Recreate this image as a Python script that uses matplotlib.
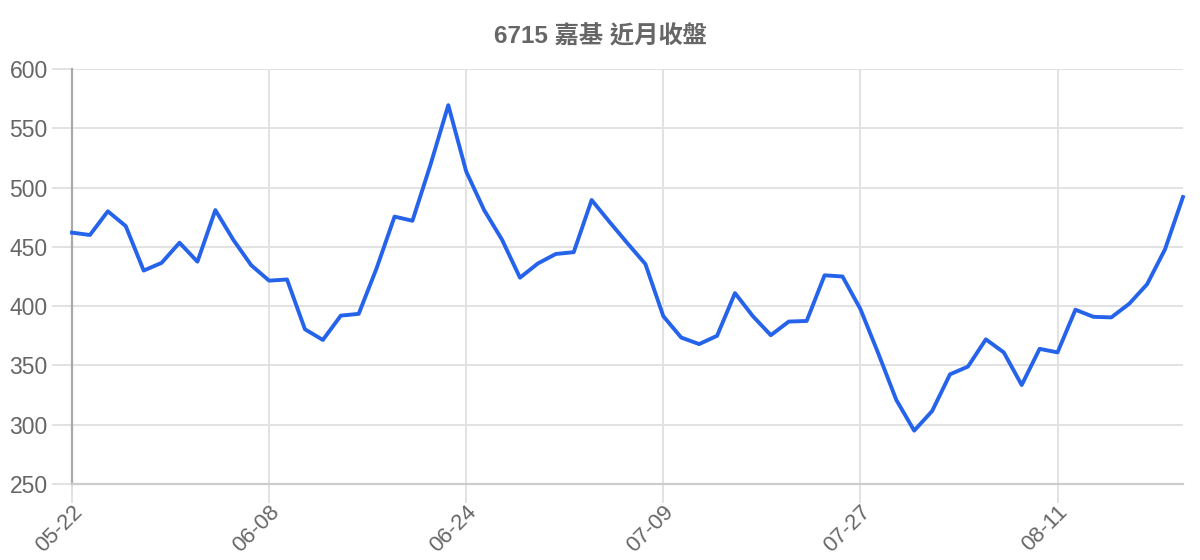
import matplotlib
matplotlib.use('Agg')
import matplotlib.pyplot as plt
from matplotlib.transforms import ScaledTranslation

plt.rcParams['font.family'] = ['Liberation Sans', 'Noto Sans CJK TC', 'DejaVu Sans']

# dates de cotation (affichées une sur onze)
dates = [
    '05-22', '05-25', '05-26', '05-27', '05-28', '05-29',
    '06-01', '06-02', '06-03', '06-04', '06-05',
    '06-08', '06-09', '06-10', '06-11', '06-12',
    '06-15', '06-16', '06-17', '06-18',
    '06-22', '06-23', '06-24', '06-25', '06-26',
    '06-29', '06-30', '07-01', '07-02', '07-03',
    '07-06', '07-07', '07-08', '07-09',
    '07-13', '07-14', '07-15', '07-16', '07-17',
    '07-20', '07-21', '07-22', '07-23', '07-24',
    '07-27', '07-28', '07-29', '07-30', '07-31',
    '08-03', '08-04', '08-05', '08-06', '08-07',
    '08-10', '08-11', '08-12', '08-13', '08-14',
    '08-17', '08-18', '08-19', '08-20',
]

# prix de cloture
close = [
    462, 460, 480, 467.5, 430, 436.5, 453.5, 437.5, 481, 456,
    434.5, 421.5, 422.5, 380.5, 371.5, 392, 393.5, 432, 475.5, 472,
    519, 569.5, 513.5, 481, 456, 424, 436, 444, 445.5, 489.5,
    471, 453, 435.5, 391.5, 373.5, 368, 375, 411, 391.5, 375.5,
    387, 387.5, 426, 425, 397.5, 360, 321, 295, 311.5, 342.5,
    349, 372, 361, 333.5, 364, 361, 397, 391, 390.5, 402,
    418.5, 448, 492,
]

title = '6715 嘉基 近月收盤'
label_step = 11

fig = plt.figure(figsize=(12, 5.6), dpi=100)
ax = fig.add_axes([0.06, 0.1357, 0.9258, 0.7411])

x = list(range(len(close)))
ax.plot(x, close, color='#2563eb', linewidth=2.8, zorder=3, clip_on=False)

ax.set_xlim(0, len(close) - 1)
ax.set_ylim(250, 600)
ax.set_yticks(range(250, 601, 50))
ax.set_xticks(x[::label_step])
ax.set_xticklabels(dates[::label_step], rotation=45, ha='right', va='top', rotation_mode='anchor')
# petit decalage vers la gauche des etiquettes
shift = ScaledTranslation(-0.04, 0, fig.dpi_scale_trans)
for lab in ax.get_xticklabels():
    lab.set_transform(lab.get_transform() + shift)

ax.grid(True, color='#e2e2e2', linewidth=1.4, zorder=0)
for s in ['top', 'right']:
    ax.spines[s].set_visible(False)
ax.spines['left'].set_color('#aaaaaa')
ax.spines['left'].set_linewidth(1.6)
ax.spines['bottom'].set_color('#cccccc')
ax.spines['bottom'].set_linewidth(1.6)

ax.tick_params(axis='y', length=14.5, width=1.4, color='#e2e2e2', labelsize=16.5, labelcolor='#666666', pad=3)
ax.tick_params(axis='x', length=13.5, width=1.4, color='#e2e2e2', labelsize=16, labelcolor='#666666', pad=-1)

fig.text(0.5, 0.935, title, ha='center', va='center', fontsize=17.5, fontweight='bold', color='#666666')

fig.savefig('out.png', dpi=100)
